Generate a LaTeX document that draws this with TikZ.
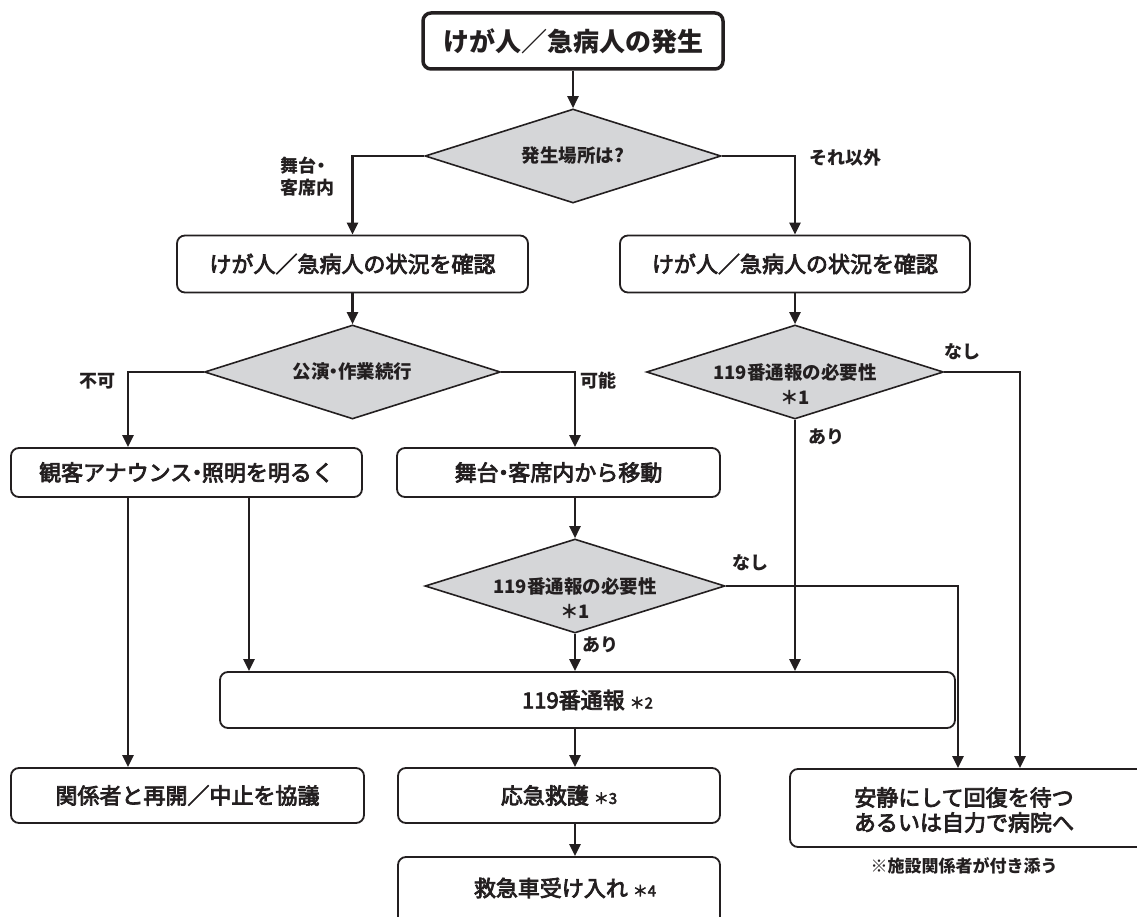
\documentclass[tikz,border=0pt]{standalone}
\usepackage{fontspec}
\newfontfamily\jp{Noto Sans CJK JP}
\newfontfamily\jpm[FakeBold=3.5]{Noto Sans CJK JP}
\usetikzlibrary{arrows.meta,shapes.geometric}
\definecolor{ink}{HTML}{231F20}
\definecolor{dgray}{HTML}{D5D6D8}
\newcommand{\nakaguro}{\kern-0.28em・\kern-0.28em}
\tikzset{
  box/.style={draw=ink, line width=1.8pt, rounded corners=8pt, fill=white, inner sep=0pt,
    font=\jpm\fontsize{22}{27}\selectfont, text=ink, align=center},
  topbox/.style={box, line width=3.5pt, font=\jp\bfseries\fontsize{26}{30}\selectfont},
  dia/.style={diamond, draw=ink, fill=dgray, line width=1.6pt, inner sep=0pt},
  dtxt/.style={font=\jp\bfseries\fontsize{18.5}{22}\selectfont, text=ink, inner sep=0pt},
  lbl/.style={font=\jp\bfseries\fontsize{18}{22}\selectfont, text=ink, inner sep=0pt, align=left},
  note/.style={font=\jp\bfseries\fontsize{17}{20}\selectfont, text=ink, inner sep=0pt},
  arr/.style={draw=ink, line width=2.4pt, -{Triangle[width=11pt,length=12pt]}},
}
\begin{document}
\begin{tikzpicture}[x=1pt,y=-1pt]
\useasboundingbox (0,0) rectangle (1137,917);
% x guides
\coordinate (xa) at (128,0);
\coordinate (xa2) at (249,0);
\coordinate (xb) at (575,0);
\coordinate (xf1) at (958,0);
\coordinate (xf2) at (1020,0);
% nodes
\node[topbox, minimum width=300pt, minimum height=56pt] (top) at (573,41) {けが人／急病人の発生};
\node[dia, minimum width=296pt, minimum height=94pt] (d1) at (573,156) {};
\node[dtxt] at (d1) {発生場所は?};
\node[box, minimum width=351pt, minimum height=57pt] (l1) at (352.5,264) {けが人／急病人の状況を確認};
\node[box, minimum width=350pt, minimum height=57pt] (r1) at (795,264) {けが人／急病人の状況を確認};
\node[dia, minimum width=296pt, minimum height=94pt] (d2) at (352.5,372) {};
\node[dtxt] at (d2) {公演\nakaguro 作業続行};
\node[dia, minimum width=297pt, minimum height=94pt] (d3) at (795,372) {};
\node[dtxt] at (d3) {119番通報の必要性};
\node[dtxt, yshift=-25pt] at (d3) {＊1};
\node[box, minimum width=351pt, minimum height=49pt] (a) at (186.5,472.5) {観客アナウンス\nakaguro 照明を明るく};
\node[box, minimum width=323pt, minimum height=49pt] (b) at (558.5,472.5) {舞台\nakaguro 客席内から移動};
\node[dia, minimum width=300pt, minimum height=94pt] (d4) at (575,586) {};
\node[dtxt] at (d4) {119番通報の必要性};
\node[dtxt, yshift=-25pt] at (d4) {＊1};
\node[box, minimum width=735pt, minimum height=56pt] (n119) at (587.5,700) {119番通報 {\fontsize{15}{18}\selectfont ＊2}};
\node[box, minimum width=353pt, minimum height=55pt] (c) at (187.5,795.5) {関係者と再開／中止を協議};
\node[box, minimum width=322pt, minimum height=55pt] (dd) at (559,795.5) {応急救護 {\fontsize{15}{18}\selectfont ＊3}};
\node[box, minimum width=322pt, minimum height=80pt] (e) at (559,897) {};
\node[font=\jpm\fontsize{22}{27}\selectfont, text=ink, inner sep=0pt] at (565,888) {救急車受け入れ {\fontsize{15}{18}\selectfont ＊4}};
\node[box, minimum width=360pt, minimum height=78pt] (f) at (970,808) {};
\node[font=\jpm\fontsize{22}{25}\selectfont, text=ink, align=center, inner sep=0pt] at (964,810) {安静にして回復を待つ\\あるいは自力で病院へ};
\node[note] at (964,866) {※施設関係者が付き添う};
% labels
\node[lbl] at (307,177) {舞台\kern-0.2em・\\客席内};
\node[lbl] at (845,158) {それ以外};
\node[lbl] at (97,381) {不可};
\node[lbl] at (598,381) {可能};
\node[lbl] at (962,352) {なし};
\node[lbl] at (826,437) {あり};
\node[lbl] at (750,563) {なし};
\node[lbl] at (600,645) {あり};
% connectors
\draw[arr] (top.south) -- (d1.north);
\draw[arr] (d1.west) -| (l1.north);
\draw[arr] (d1.east) -| (r1.north);
\draw[arr] (l1.south) -- (d2.north);
\draw[arr] (r1.south) -- (d3.north);
\draw[arr] (d2.west) -| (a.north -| xa);
\draw[arr] (d2.east) -| (b.north -| xb);
\draw[arr] (b.south -| xb) -- (d4.north);
\draw[arr] (a.south -| xa) -- (c.north -| xa);
\draw[arr] (a.south -| xa2) -- (n119.north -| xa2);
\draw[arr] (d4.south) -- (n119.north -| d4.south);
\draw[arr] (d3.south) -- (n119.north -| d3.south);
\draw[arr] (d4.east) -| (f.north -| xf1);
\draw[arr] (d3.east) -| (f.north -| xf2);
\draw[arr] (n119.south -| xb) -- (dd.north -| xb);
\draw[arr] (dd.south -| xb) -- (e.north -| xb);
\end{tikzpicture}
\end{document}
